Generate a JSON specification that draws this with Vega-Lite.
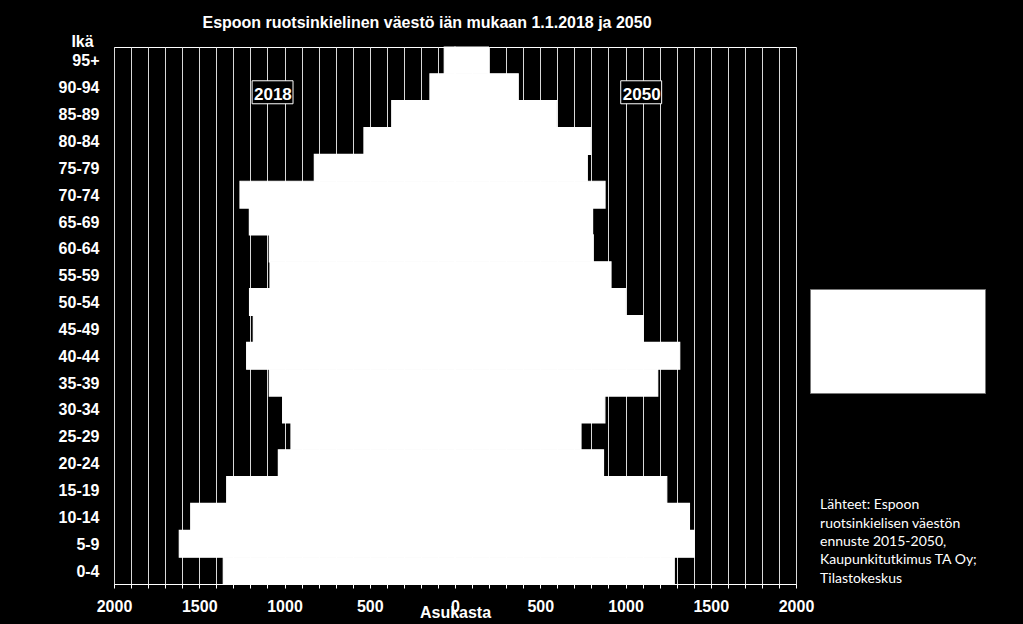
{
  "$schema": "https://vega.github.io/schema/vega-lite/v6.json",
  "autosize": {"type": "none"},
  "width": 682,
  "height": 537,
  "padding": {"left": 114, "top": 47, "right": 227, "bottom": 40},
  "background": "black",
  "title": {
    "text": "Espoon ruotsinkielinen väestö iän mukaan 1.1.2018 ja 2050",
    "color": "white",
    "fontSize": 16,
    "fontWeight": "bold",
    "font": "Liberation Sans",
    "anchor": "middle",
    "dx": -28,
    "offset": 2
  },
  "data": {
    "values": [
      {"ika": "95+", "vuosi": "2018", "asukkaat": 63},
      {"ika": "90-94", "vuosi": "2018", "asukkaat": 147},
      {"ika": "85-89", "vuosi": "2018", "asukkaat": 371},
      {"ika": "80-84", "vuosi": "2018", "asukkaat": 534},
      {"ika": "75-79", "vuosi": "2018", "asukkaat": 825},
      {"ika": "70-74", "vuosi": "2018", "asukkaat": 1261},
      {"ika": "65-69", "vuosi": "2018", "asukkaat": 1206},
      {"ika": "60-64", "vuosi": "2018", "asukkaat": 1089},
      {"ika": "55-59", "vuosi": "2018", "asukkaat": 1085},
      {"ika": "50-54", "vuosi": "2018", "asukkaat": 1205},
      {"ika": "45-49", "vuosi": "2018", "asukkaat": 1183},
      {"ika": "40-44", "vuosi": "2018", "asukkaat": 1222},
      {"ika": "35-39", "vuosi": "2018", "asukkaat": 1089},
      {"ika": "30-34", "vuosi": "2018", "asukkaat": 1011},
      {"ika": "25-29", "vuosi": "2018", "asukkaat": 962},
      {"ika": "20-24", "vuosi": "2018", "asukkaat": 1036},
      {"ika": "15-19", "vuosi": "2018", "asukkaat": 1339},
      {"ika": "10-14", "vuosi": "2018", "asukkaat": 1550},
      {"ika": "5-9", "vuosi": "2018", "asukkaat": 1617},
      {"ika": "0-4", "vuosi": "2018", "asukkaat": 1359},
      {"ika": "95+", "vuosi": "2050", "asukkaat": 196},
      {"ika": "90-94", "vuosi": "2050", "asukkaat": 371},
      {"ika": "85-89", "vuosi": "2050", "asukkaat": 597},
      {"ika": "80-84", "vuosi": "2050", "asukkaat": 796},
      {"ika": "75-79", "vuosi": "2050", "asukkaat": 776},
      {"ika": "70-74", "vuosi": "2050", "asukkaat": 880},
      {"ika": "65-69", "vuosi": "2050", "asukkaat": 807},
      {"ika": "60-64", "vuosi": "2050", "asukkaat": 811},
      {"ika": "55-59", "vuosi": "2050", "asukkaat": 915},
      {"ika": "50-54", "vuosi": "2050", "asukkaat": 1001},
      {"ika": "45-49", "vuosi": "2050", "asukkaat": 1104},
      {"ika": "40-44", "vuosi": "2050", "asukkaat": 1318},
      {"ika": "35-39", "vuosi": "2050", "asukkaat": 1189},
      {"ika": "30-34", "vuosi": "2050", "asukkaat": 879},
      {"ika": "25-29", "vuosi": "2050", "asukkaat": 739},
      {"ika": "20-24", "vuosi": "2050", "asukkaat": 871},
      {"ika": "15-19", "vuosi": "2050", "asukkaat": 1242},
      {"ika": "10-14", "vuosi": "2050", "asukkaat": 1375},
      {"ika": "5-9", "vuosi": "2050", "asukkaat": 1403},
      {"ika": "0-4", "vuosi": "2050", "asukkaat": 1286}
    ]
  },
  "layer": [
    {
      "transform": [
        {"calculate": "datum.vuosi == '2018' ? -datum.asukkaat : datum.asukkaat", "as": "x"}
      ],
      "mark": {"type": "bar", "stroke": "#ffffff", "strokeWidth": 1.2, "strokeOpacity": 1},
      "encoding": {
        "y": {
          "field": "ika",
          "type": "nominal",
          "sort": ["95+", "90-94", "85-89", "80-84", "75-79", "70-74", "65-69", "60-64", "55-59", "50-54", "45-49", "40-44", "35-39", "30-34", "25-29", "20-24", "15-19", "10-14", "5-9", "0-4"],
          "scale": {"type": "band", "paddingInner": 0, "paddingOuter": 0},
          "axis": {
            "title": "Ikä",
            "titleAngle": 0,
            "titleX": -32,
            "titleY": -1,
            "titleAlign": "center",
            "titleBaseline": "alphabetic",
            "titleColor": "white",
            "titleFontSize": 16,
            "titleFontWeight": "bold",
            "labelColor": "white",
            "labelFontSize": 16,
            "labelFontWeight": "bold",
            "labelPadding": 15,
            "labelOffset": 1,
            "ticks": false,
            "domain": false,
            "grid": false
          }
        },
        "x": {
          "field": "x",
          "type": "quantitative",
          "scale": {"domain": [-2000, 2000], "nice": false},
          "axis": {
            "title": "Asukasta",
            "titleY": 33,
            "titleBaseline": "alphabetic",
            "titleColor": "white",
            "titleFontSize": 16,
            "titleFontWeight": "bold",
            "tickCount": 40,
            "labelExpr": "datum.value % 500 === 0 ? format(abs(datum.value), 'd') : ''",
            "labelOverlap": false,
            "labelFlush": false,
            "labelColor": "white",
            "labelFontSize": 16,
            "labelFontWeight": "bold",
            "labelBaseline": "top",
            "labelPadding": 10,
            "tickSize": 4,
            "tickColor": "white",
            "domainColor": "white",
            "grid": true,
            "gridColor": "#d9d9d9",
            "gridWidth": 1
          }
        },
        "color": {
          "field": "vuosi",
          "type": "nominal",
          "scale": {"range": ["#ffffff", "#ffffff"]},
          "legend": {
            "orient": "none",
            "legendX": 696,
            "legendY": 242,
            "title": null,
            "fillColor": "white",
            "strokeColor": "#777777",
            "padding": 20,
            "symbolType": "square",
            "symbolSize": 625,
            "symbolFillColor": "white",
            "symbolStrokeColor": "white",
            "labelExpr": "''",
            "labelOffset": 108,
            "rowPadding": 4
          }
        }
      }
    },
    {
      "data": {"values": [{}]},
      "mark": {"type": "bar", "fill": "black", "stroke": "white", "strokeWidth": 1, "height": 23, "yOffset": 5},
      "encoding": {
        "x": {"datum": -1190, "type": "quantitative"},
        "x2": {"datum": -950},
        "y": {"datum": "90-94", "type": "nominal"}
      }
    },
    {
      "data": {"values": [{}]},
      "mark": {"type": "bar", "fill": "black", "stroke": "white", "strokeWidth": 1, "height": 23, "yOffset": 5},
      "encoding": {
        "x": {"datum": 972, "type": "quantitative"},
        "x2": {"datum": 1212},
        "y": {"datum": "90-94", "type": "nominal"}
      }
    },
    {
      "data": {"values": [{}]},
      "mark": {"type": "text", "color": "white", "font": "Liberation Sans", "fontSize": 17, "fontWeight": "bold", "align": "center", "baseline": "alphabetic", "yOffset": 13},
      "encoding": {
        "x": {"datum": -1068, "type": "quantitative"},
        "y": {"datum": "90-94", "type": "nominal"},
        "text": {"value": "2018"}
      }
    },
    {
      "data": {"values": [{}]},
      "mark": {"type": "text", "color": "white", "font": "Liberation Sans", "fontSize": 17, "fontWeight": "bold", "align": "center", "baseline": "alphabetic", "yOffset": 13},
      "encoding": {
        "x": {"datum": 1095, "type": "quantitative"},
        "y": {"datum": "90-94", "type": "nominal"},
        "text": {"value": "2050"}
      }
    },
    {
      "data": {"values": [{}]},
      "mark": {"type": "text", "color": "white", "font": "Lato", "fontSize": 14, "align": "left", "baseline": "alphabetic", "lineHeight": 18.3, "yOffset": -7.5},
      "encoding": {
        "x": {"datum": 2141, "type": "quantitative"},
        "y": {"datum": "10-14", "type": "nominal"},
        "text": {"value": ["Lähteet: Espoon", "ruotsinkielisen väestön", "ennuste 2015-2050,", "Kaupunkitutkimus TA Oy;", "Tilastokeskus"]}
      }
    }
  ],
  "config": {
    "font": "Liberation Sans",
    "view": {"stroke": "white", "strokeWidth": 1}
  }
}
